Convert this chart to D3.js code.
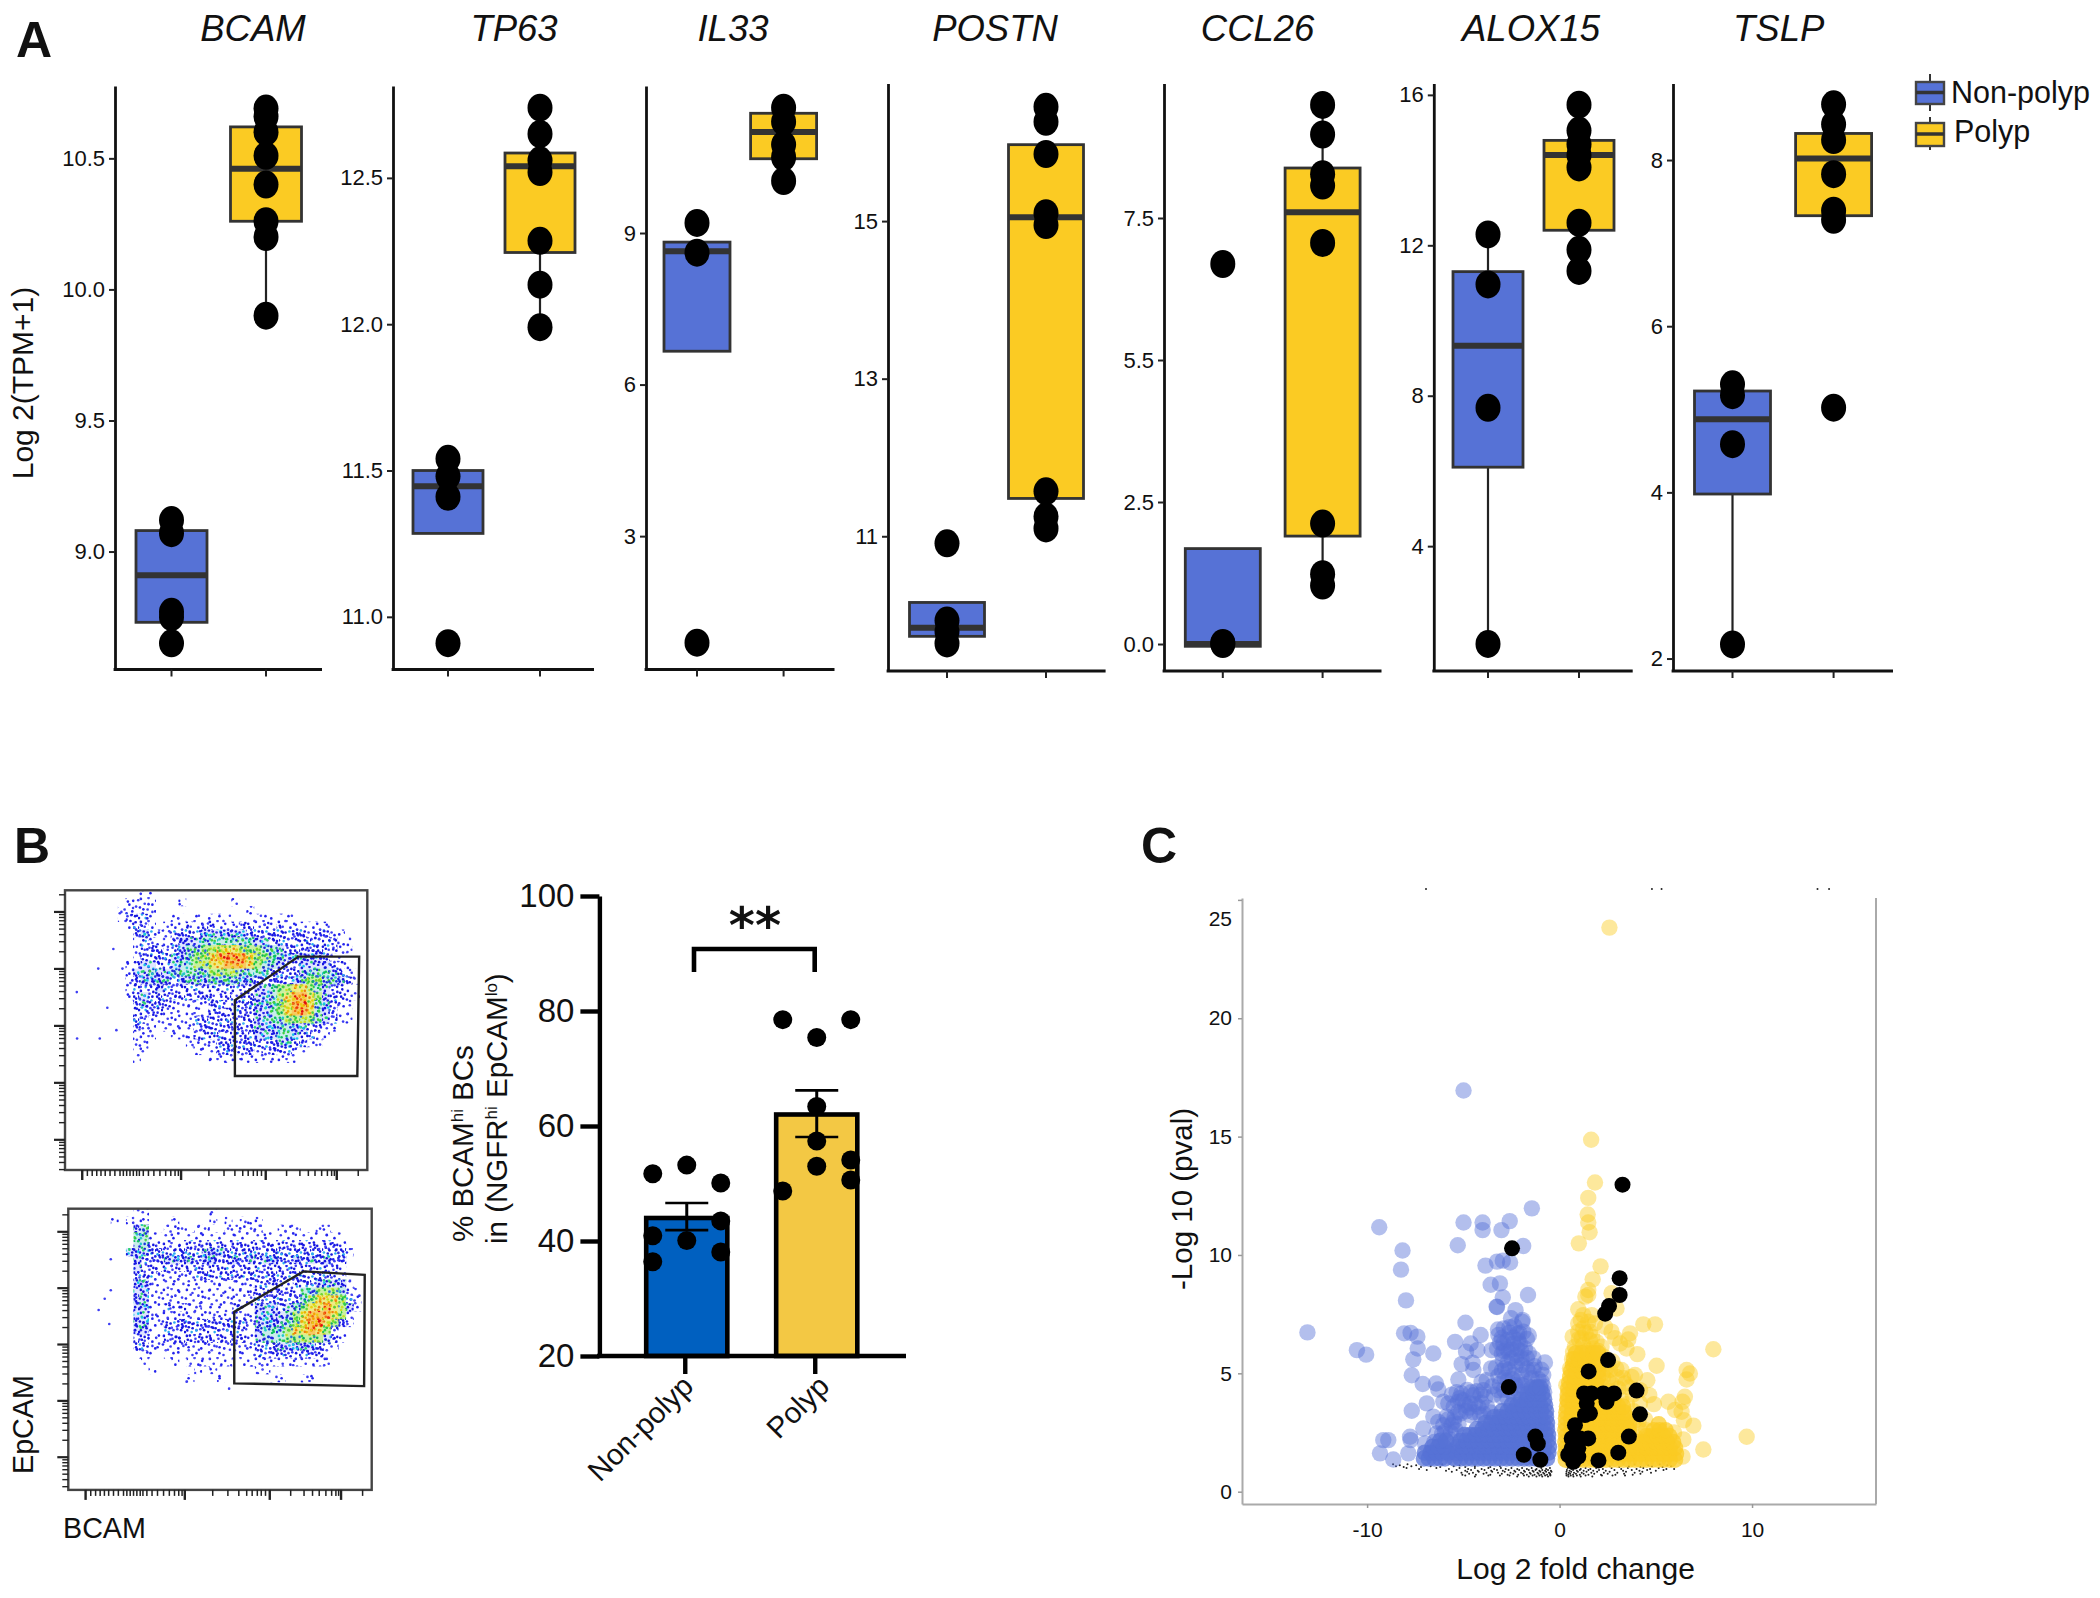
<!DOCTYPE html>
<html>
<head>
<meta charset="utf-8">
<script src="https://cdn.jsdelivr.net/npm/d3@7"></script>
<style>
  body { margin: 0; background: #fff; }
  svg { display: block; }
  text { font-family: "Liberation Sans", Arial, sans-serif; fill: #111; }
</style>
</head>
<body>
<svg id="fig" width="2100" height="1598"></svg>
<script>
// Panel A data
const groups = ["Non-polyp", "Polyp"];
const genes = ["BCAM", "TP63", "IL33", "POSTN", "CCL26", "ALOX15", "TSLP"];
const yDomains = [[8.55, 10.776], [10.82, 12.814], [0.36, 11.91], [9.29, 16.745], [-0.475, 9.866], [0.68, 16.3], [1.85, 8.92]];
const yTicks = [[9, 9.5, 10, 10.5], [11, 11.5, 12, 12.5], [3, 6, 9], [11, 13, 15], [0, 2.5, 5, 7.5], [4, 8, 12, 16], [2, 4, 6, 8]];
const yTickLabels = [["9.0", "9.5", "10.0", "10.5"], ["11.0", "11.5", "12.0", "12.5"], ["3", "6", "9"], ["11", "13", "15"], ["0.0", "2.5", "5.5", "7.5"], ["4", "8", "12", "16"], ["2", "4", "6", "8"]];
const q1Values = [[8.73, 10.26], [11.285, 12.245], [6.66, 10.47], [9.73, 11.48], [-0.04, 1.9], [6.1, 12.4], [3.98, 7.33]];
const medianValues = [[8.91, 10.46], [11.446, 12.54], [8.64, 11.0], [9.84, 15.05], [0, 7.6], [9.33, 14.4], [4.88, 8.02]];
const q3Values = [[9.08, 10.62], [11.5, 12.585], [8.82, 11.37], [10.16, 15.97], [1.68, 8.38], [11.3, 14.79], [5.22, 8.32]];
const whiskerLow = [[8.73, 9.9], [11.285, 11.99], [6.66, 10.47], [9.73, 11.48], [-0.04, 1.03], [1.4, 12.4], [2.17, 7.33]];
const whiskerHigh = [[9.08, 10.69], [11.5, 12.74], [8.82, 11.37], [10.16, 15.97], [1.68, 9.49], [12.29, 14.79], [5.22, 8.32]];
const dotsNonPolyp = [
  [9.12, 9.07, 8.77, 8.75, 8.65],
  [11.54, 11.48, 11.41, 10.91],
  [9.2, 8.61, 0.89],
  [10.91, 9.93, 9.79, 9.64],
  [6.69, 0, 0.02],
  [12.29, 10.96, 7.68, 1.4],
  [5.3, 5.17, 4.58, 2.17]
];
const dotsPolyp = [
  [10.69, 10.66, 10.6, 10.51, 10.4, 10.26, 10.2, 9.9],
  [12.74, 12.65, 12.56, 12.52, 12.285, 12.135, 11.99],
  [11.48, 11.2, 10.75, 10.5, 10.03],
  [16.45, 16.26, 15.85, 15.1, 14.95, 11.57, 11.25, 11.1],
  [9.49, 8.97, 8.27, 8.07, 7.06, 2.12, 1.23, 1.03],
  [15.74, 15.05, 14.68, 14.4, 14.07, 12.6, 11.88, 11.32],
  [8.67, 8.43, 8.24, 7.83, 7.39, 7.28, 5.02]
];

// Panel B flow plots: density class per cell (0 empty .. 7 red)
const flowDensityTop = [
  "0001110000000000000000000000000000",
  "0011110001000000100000000000000000",
  "0111110000000000001000000000000000",
  "0122210011011111001111111000000000",
  "0012210111212211122121211111100000",
  "0002321122223333332222222212211000",
  "0001211123334444444332222222221100",
  "0001222123445566655544322222221100",
  "0001222233455677776554433333211000",
  "0012332234455667776544322333322100",
  "0013343344444555544432222344432110",
  "0012333323343444433222223455443210",
  "0012223222222222222334556654322100",
  "0012322222222212122334567765322110",
  "0002322211111221222334567764321100",
  "0002222111111222222334567764321100",
  "0002211111122222222334455554321100",
  "0002110111122222222333443322110000",
  "0001110011122222222333443221100000",
  "0001100000111122222222332211000000",
  "0001100000011122222122221100000000",
  "0001000000000111111111111000000000"
];
const flowDensityBottom = [
  "0001100000000100000000000000000000",
  "1011100010000101011100000000000000",
  "0003400111011001111100111001100000",
  "0004411111111111111111111111111000",
  "0004421212222222222222222222221000",
  "0033322222223332222222222222222100",
  "0003222332323322323233223232322000",
  "0003222222222222222222222222221000",
  "0002221111122222222222222222211000",
  "0003311111111111111222112223333100",
  "0003311111111111112222222445554110",
  "0003311111111111111222222456665210",
  "0003311212121111211333234566765310",
  "0003311111111111111333345677765100",
  "0003311222222222221333345677652100",
  "0003311222222222221344456676521000",
  "0002211222222222221344455555321000",
  "0002211111111111111222333332110000",
  "0001110111111111111222222222100000",
  "0000100010111111011111111111100000",
  "0000010000010100000110000000000000",
  "0000000000100010000001100110000000"
];
const flowStraysTop = [[3.9, 63.6], [11, 72], [4, 47], [11.5, 47], [17, 50], [19, 72], [16, 79], [14, 58]];
const flowStraysBottom = [[14, 71], [12, 68], [13.5, 59], [10, 64], [14, 82], [39, 38.5], [53, 36]];
const gateTop = [[56.2, 60.7], [77.2, 76.3], [97.3, 76.3], [96.7, 33.6], [56.2, 33.6]];
const gateBottom = [[54.7, 63.3], [77.5, 77.7], [97.7, 76.5], [97.5, 36.9], [54.7, 37.9]];
const flowMajorX = [5.7, 38.4, 66.4, 89.9];
const flowMinorX = [7.4, 9, 10.5, 11.9, 13.3, 14.9, 16.5, 18.2, 19.3, 20.4, 21.5, 22.6, 23.7, 24.6, 25.9, 27.6, 29.4, 31.4, 33.3, 35, 36.4, 37.5, 47.6, 52.6, 56.2, 58.8, 60.6, 62.3, 63.6, 65, 73.3, 77.7, 80.5, 82.7, 84.9, 86.8, 88.2, 89.1, 97];

// Panel B bars
const barMeans = [44, 62];
const barErrLow = [41.9, 58.1];
const barErrHigh = [46.6, 66.2];
const barTicks = [20, 40, 60, 80, 100];
const barDotsNon = [[-1, 51.7], [0, 53.2], [1, 50.1], [1, 43.5], [-1, 40.9], [0, 40.1], [1, 38.1], [-1, 36.4]];
const barDotsPolyp = [[-1, 78.5], [1, 78.5], [0, 75.4], [0, 63.4], [0, 57.4], [0, 53], [1, 54.1], [1, 50.6], [-1, 48.7]];

// Panel C volcano, [log2fc, -log10 p]
const blueScattered = [
  [-4.99, 16.95], [-1.44, 11.97], [-9.37, 11.17], [-4.99, 11.37], [-4, 11.37], [-4, 11.05], [-3.02, 11.05], [-2.59, 11.43],
  [-5.29, 10.41], [-1.89, 10.38], [-8.16, 10.19], [-8.24, 9.38], [-3.85, 9.55], [-3.25, 9.72], [-2.95, 9.76], [-2.57, 9.68],
  [-3.58, 8.74], [-3.1, 8.8], [-7.98, 8.08], [-2.95, 8.21], [-1.64, 8.31], [-3.25, 7.8], [-2.29, 7.67], [-3.27, 7.81],
  [-4.89, 7.14], [-2.52, 7.33], [-1.94, 7.18], [-1.92, 7.25], [-13.1, 6.73], [-8.08, 6.69], [-7.74, 6.71], [-7.39, 6.55],
  [-7.37, 6.05], [-7.6, 5.59], [-7.68, 4.92], [-7.11, 4.55], [-6.56, 5.84], [-5.43, 6.33], [-4.1, 6.62], [-4.62, 6.26],
  [-4.86, 5.91], [-4.27, 5.98], [-5.09, 5.39], [-4.52, 5.45], [-4.48, 5.14], [-5.26, 4.74], [-6.42, 4.57], [-6.3, 4.32],
  [-3.56, 5.21], [-3.18, 6.62], [-3.53, 5.98], [-10.53, 5.98], [-10.05, 5.79], [-3, 6.5], [-2.92, 6.26], [-2.4, 6.26],
  [-2.06, 6.26], [-1.8, 6.05], [-2.66, 5.91], [-2.23, 5.77], [-3, 5.84], [-2.49, 5.63], [-1.97, 5.63], [-1.36, 5.63],
  [-0.76, 5.46], [-1.36, 5.14], [-2.84, 5.21], [-1.97, 4.93], [-1.45, 4.79], [-0.93, 4.64], [-0.85, 4.93], [-2.4, 4.93],
  [-3.18, 4.88], [-3.79, 4.71], [-4.05, 4.64], [-3.18, 4.29], [-3.96, 4.29], [-4.48, 4.08], [-5, 3.87], [-5.26, 3.8],
  [-4.65, 3.73], [-4.22, 3.59], [-4.13, 3.24], [-4.65, 3.24], [-5.26, 3.37], [-5.78, 3.73], [-6.04, 3.8], [-6.56, 3.17],
  [-6.9, 3.73], [-7.68, 3.42], [-7.08, 2.67], [-5.87, 3.17], [-5.61, 2.81], [-6.04, 2.81], [-6.39, 2.46], [-7.77, 2.32],
  [-7.74, 2.18], [-6.99, 2.04], [-8.9, 2.18], [-9.16, 2.18], [-7.86, 1.62], [-8.64, 1.36], [-9.33, 1.62],
  [-2.6, 6.72], [-2.2, 6.68], [-1.88, 6.76], [-1.7, 6.45], [-2.75, 6.05], [-2.2, 6.05], [-1.95, 5.35], [-2.3, 5.3],
  [-1.6, 5.05], [-1.1, 4.75], [-2.7, 4.7], [-2.2, 4.65], [-3.5, 4.45], [-1.75, 4.55],
  [-5.6, 4.1], [-5.35, 4.2], [-5.1, 4.15], [-4.8, 4.3], [-4.6, 4.2], [-4.3, 4.25], [-4.1, 4.1], [-3.85, 4],
  [-5.5, 3.6], [-5.2, 3.95], [-4.9, 3.65], [-4.7, 3.55], [-4.4, 3.7], [-4.05, 3.75], [-3.75, 3.55], [-5.45, 3.15],
  [-5.15, 3.3], [-4.85, 3.4], [-4.45, 3.35], [-3.95, 3.3], [-3.6, 3.35], [-5.8, 3.05], [-5.5, 2.95], [-5.25, 2.85],
  [-5.95, 2.55], [-5.65, 2.5], [-5.4, 2.6], [-6.3, 2.95], [-6.1, 2.45], [-6.5, 2.1], [-5.7, 2.2], [-5.5, 1.95], [-5.7, 1.7], [-5.6, 1.45],
  [-3.3, 5.25], [-3, 5.1], [-2.65, 5.15], [-2.85, 4.8], [-2.45, 4.75], [-3.1, 4.55], [-2.3, 4.5], [-1.95, 4.5],
  [-2.9, 4.3], [-2.55, 4.25], [-2.2, 4.3], [-1.85, 4.25], [-3.4, 4.1], [-3, 4], [-2.7, 3.95], [-2.35, 3.95],
  [-0.8, 4.2], [-0.85, 4.45], [-1.15, 4.4], [-1.3, 5.3], [-0.95, 5.15], [-1.7, 5.2],
  [-3.2, 6.85], [-2.9, 6.9], [-2.6, 6.95], [-2.35, 7], [-2.1, 6.7], [-3.1, 6.3], [-2.7, 6.4], [-2.4, 6.5],
  [-2.15, 6.4], [-1.6, 6.6], [-3.25, 6.05], [-2.9, 5.95], [-2.5, 6], [-2, 5.95], [-2.95, 5.55], [-2.7, 5.45],
  [-2.2, 5.5], [-1.7, 5.65], [-1.6, 5.85]
];
const blueRows = [
  [1.4, [-7.05, -6.8, -6.5, -6.2, -5.95, -5.45, -5.15, -4.85, -4.55, -4.25, -3.95, -3.65, -3.35, -3.05, -2.75, -2.45, -2.15, -1.85, -1.55, -1.25, -0.95, -0.65]],
  [1.65, [-7, -6.7, -6.4, -6.1, -5.8, -5.35, -5.05, -4.75, -4.45, -4.15, -3.85, -3.55, -3.25, -2.95, -2.65, -2.35, -2.05, -1.75, -1.45, -1.15, -0.85, -0.58]],
  [1.9, [-6.6, -6.3, -6, -5.3, -5, -4.7, -4.4, -4.1, -3.8, -3.5, -3.2, -2.9, -2.6, -2.3, -2, -1.7, -1.4, -1.1, -0.8, -0.55]],
  [2.15, [-6.2, -5.9, -5.15, -4.85, -4.55, -4.25, -3.95, -3.65, -3.35, -3.05, -2.75, -2.45, -2.15, -1.85, -1.55, -1.25, -0.95, -0.6]],
  [2.4, [-4.95, -4.65, -4.35, -4.05, -3.75, -3.45, -3.15, -2.85, -2.55, -2.25, -1.95, -1.65, -1.35, -1.05, -0.75, -0.6]],
  [2.65, [-4.3, -4, -3.7, -3.4, -3.1, -2.8, -2.5, -2.2, -1.9, -1.6, -1.3, -1, -0.65]],
  [2.9, [-3.85, -3.55, -3.25, -2.95, -2.65, -2.35, -2.05, -1.75, -1.45, -1.15, -0.85, -0.65]],
  [3.15, [-3.4, -3.1, -2.8, -2.5, -2.2, -1.9, -1.6, -1.3, -1, -0.7]],
  [3.4, [-3, -2.7, -2.4, -2.1, -1.8, -1.5, -1.2, -0.95, -0.7]],
  [3.65, [-2.5, -2.2, -1.9, -1.6, -1.3, -1, -0.75]],
  [3.9, [-2, -1.7, -1.4, -1.1, -0.8]],
  [4.15, [-1.65, -1.35, -1.1, -0.9]],
  [4.4, [-1.45, -1.2, -1]]
];
const yellowScattered = [
  [2.59, 23.83], [1.64, 14.87], [1.84, 13.06], [1.49, 12.41], [1.46, 11.71], [1.49, 11.37], [1.56, 10.96], [1, 10.49],
  [2.13, 9.52], [1.72, 8.97], [1.49, 8.52], [1.49, 8.31], [1.34, 8.24], [2.7, 8.38], [0.97, 7.71], [2.96, 7.74],
  [4.35, 7.07], [4.96, 7.07], [7.99, 6.02], [3.66, 6.69], [2.36, 6.97], [2.7, 6.76], [2.88, 6.48], [3.57, 6.43],
  [3.14, 6.26], [3.48, 6.05], [4.04, 5.81], [0.68, 6.55], [5.04, 5.32], [6.6, 5.14], [6.77, 4.99], [6.6, 4.74],
  [3.22, 5.14], [3.92, 4.93], [4.56, 4.71], [0.54, 5.2], [6.51, 4.01], [6.39, 3.8], [5.65, 3.8], [6, 3.45],
  [6.34, 3.38], [4.9, 3.7], [4.66, 4.08], [6.95, 2.79], [6.46, 3.02], [7.47, 1.78], [9.72, 2.32], [6.39, 1.48],
  [6.43, 2.21], [1.23, 7.46], [1.67, 7.46], [0.97, 7.11], [1.49, 7.18], [1.84, 7.11], [1.23, 6.9], [1.58, 6.76],
  [0.97, 6.76], [1.15, 6.48], [1.58, 6.4], [1.92, 6.33], [0.8, 6.12], [1.23, 6.19], [1.75, 6.05], [2.18, 6.12],
  [2.62, 5.14], [2.96, 4.85], [3.4, 4.57], [3.74, 4.85], [2.27, 4.85], [2.7, 4.57], [4.18, 4.29], [4.18, 3.73],
  [4.18, 2.6], [2.45, 5.4], [3.05, 4.35], [2.35, 4.4], [4.45, 3.05], [0.4, 3.9], [0.35, 4.5], [5.95, 2.5],
  [1, 6.45], [1.35, 6.7], [1.1, 7.25], [1.7, 6.55], [2, 5.95], [0.7, 5.9], [0.65, 5.6], [1.45, 5.95],
  [2.3, 5.7], [2.4, 5.2], [2.75, 5.5], [2.2, 5], [2.95, 5.2], [3.3, 4.8], [3.6, 4.4], [3.8, 4.1],
  [2.5, 4.7], [2.6, 4.25], [3.2, 3.9], [3.5, 3.7], [3.85, 3.4], [3.9, 3], [4.1, 2.95], [4.5, 2.6], [4.6, 2.3], [3.95, 2.3]
];
const yellowRows = [
  [1.35, [0.32, 0.62, 0.92, 1.22, 1.52, 1.82, 2.12, 2.42, 2.72, 3.02, 3.32, 3.62, 3.92, 4.22, 4.52, 4.82, 5.12, 5.42, 5.72, 6]],
  [1.6, [0.3, 0.6, 0.9, 1.2, 1.5, 1.8, 2.1, 2.4, 2.7, 3, 3.3, 3.6, 3.9, 4.2, 4.5, 4.8, 5.1, 5.4, 5.7, 6.05]],
  [1.85, [0.33, 0.63, 0.93, 1.23, 1.53, 1.83, 2.13, 2.43, 2.73, 3.03, 3.33, 3.63, 3.93, 4.23, 4.53, 4.83, 5.13, 5.43, 5.73, 6]],
  [2.1, [0.3, 0.6, 0.9, 1.2, 1.5, 1.8, 2.1, 2.4, 2.7, 3, 3.3, 3.6, 4, 4.4, 4.7, 5, 5.3, 5.6, 5.9]],
  [2.35, [0.33, 0.63, 0.93, 1.23, 1.53, 1.83, 2.13, 2.43, 2.73, 3.03, 3.33, 3.6, 4.5, 4.8, 5.1, 5.4, 5.7]],
  [2.6, [0.3, 0.6, 0.9, 1.2, 1.5, 1.8, 2.1, 2.4, 2.7, 3, 3.3, 3.6, 4.9, 5.2, 5.5]],
  [2.85, [0.33, 0.63, 0.93, 1.23, 1.53, 1.83, 2.13, 2.43, 2.73, 3.03, 3.33, 3.6, 5.15]],
  [3.1, [0.33, 0.6, 0.9, 1.2, 1.5, 1.8, 2.1, 2.4, 2.7, 3, 3.3, 3.55]],
  [3.35, [0.35, 0.65, 0.95, 1.25, 1.55, 1.85, 2.15, 2.45, 2.75, 3.05, 3.35]],
  [3.6, [0.38, 0.65, 0.95, 1.25, 1.55, 1.85, 2.15, 2.45, 2.75, 3.05, 3.3]],
  [3.85, [0.42, 0.7, 1, 1.3, 1.6, 1.9, 2.3, 2.8]],
  [4.1, [0.42, 0.7, 1, 1.3, 1.6, 1.85]],
  [4.35, [0.45, 0.72, 1, 1.3, 1.6, 1.9]],
  [4.6, [0.5, 0.78, 1.05, 1.35, 1.65, 1.9]],
  [4.85, [0.55, 0.8, 1.1, 1.4, 1.7, 2]],
  [5.1, [0.6, 0.85, 1.15, 1.45, 1.75, 2]],
  [5.35, [0.7, 0.95, 1.25, 1.55, 1.9]],
  [5.6, [0.75, 1, 1.3, 1.6, 1.9]],
  [5.85, [0.85, 1.15, 1.45, 1.75, 2]]
];
const blackPoints = [
  [3.27, 12.97], [3.12, 9.02], [3.12, 8.31], [2.57, 7.84], [2.37, 7.52], [2.52, 5.56], [1.51, 5.08], [4, 4.27],
  [4.18, 3.27], [3.6, 2.33], [3.05, 1.65], [2.02, 1.32], [-2.47, 10.28], [-2.64, 4.42], [-1.26, 2.33], [-1.13, 2.03],
  [-1.86, 1.56], [-1, 1.35], [1.27, 4.15], [1.66, 4.15], [2.27, 4.15], [2.83, 4.15], [2.44, 3.8], [1.41, 3.73],
  [1.58, 3.31], [1.32, 3.24], [0.8, 2.81], [1.49, 2.25], [1.06, 2.25], [0.63, 2.25], [0.97, 1.83], [0.63, 1.83],
  [0.45, 1.55], [0.97, 1.48], [0.71, 1.26]
];
const speckRows = [
  [1.16, [-8.65, -7.9, -6.1, 3.9, 5.2]],
  [1.12, [-8.3, -7.45, -5.2, 4.6, 5.6]],
  [1.08, [-8.5, -7.7, -6.7, -5.5, -4.4, -3.1, 2.6, 3.6, 4.8, 5.8]],
  [1.04, [-8.1, -7.2, -6.2, -4.9, -3.6, 3.1, 4.2, 5.35]],
  [1, [-7.95, -6.4, -5.2, -4.4, -3.7, -3.05, -2.5, -1.95, -1.45, -0.95, -0.5, 0.42, 0.85, 1.35, 1.9, 2.7, 3.55, 4.35, 5.15]],
  [0.96, [-7.3, -5.75, -4.75, -4.05, -3.4, -2.8, -2.2, -1.7, -1.2, -0.7, 0.62, 1.1, 1.6, 2.25, 3.2, 4, 4.7, 5.55, 5.95]],
  [0.92, [-6.9, -5.35, -4.6, -3.9, -3.25, -2.65, -2.1, -1.6, -1.25, -0.9, -0.6, 0.38, 0.7, 1.05, 1.5, 2.05, 2.85, 3.75, 4.55, 5.4]],
  [0.88, [-5.9, -4.9, -4.25, -3.55, -2.95, -2.35, -1.85, -1.4, -1.05, -0.75, -0.45, 0.52, 0.9, 1.25, 1.75, 2.4, 3.3, 4.15, 5]],
  [0.84, [-5.6, -4.8, -4.2, -3.5, -2.85, -2.3, -1.8, -1.35, -1, -0.7, -0.42, 0.36, 0.6, 0.95, 1.4, 1.95, 2.6, 3.45, 4.3]],
  [0.8, [-5.1, -4.5, -3.8, -3.2, -2.55, -2, -1.55, -1.15, -0.85, -0.55, 0.48, 0.75, 1.15, 1.65, 2.3, 3, 3.9, 4.75]],
  [0.76, [-4.7, -3.95, -3, -2.4, -1.9, -1.5, -1.1, -0.8, -0.5, 0.35, 0.55, 0.85, 1.25, 1.8, 2.5, 3.35, 4.2]],
  [0.72, [-5.05, -4.35, -3.6, -2.7, -2.15, -1.7, -1.3, -0.95, -0.65, -0.48, 0.45, 0.7, 1.05, 1.5, 2.15, 2.9, 3.8]],
  [0.68, [-4.9, -3.7, -3.1, -2.6, -1.85, -1.4, -1.05, -0.75, -0.48, 0.36, 0.58, 0.9, 1.35, 2.2, 2.75, 3.4]],
  [0.64, [-4.4, -2.2, -1.6, -1.2, -0.9, -0.6, 0.46, 0.72, 1.1, 1.7]]
];
const topSpecks = [[-6.94, 25.46], [4.8, 25.46], [5.3, 25.46], [13.4, 25.46], [14, 25.46]];
const volcanoYTicks = [0, 5, 10, 15, 20, 25];
const volcanoXTicks = [-10, 0, 10];

const blue = "#5672d6", yellow = "#fbcb23", boxLine = "#333";

// layout, in page pixels
const panelLayout = [
  { left: 115, right: 322, cat1: 171.5, cat2: 266, boxW: 71, top: 86, bottom: 669.5, titleX: 253 },
  { left: 393, right: 594, cat1: 448, cat2: 540, boxW: 70, top: 86, bottom: 669.5, titleX: 514 },
  { left: 646, right: 834.5, cat1: 697, cat2: 783.6, boxW: 66, top: 86, bottom: 669.5, titleX: 733 },
  { left: 888, right: 1105.6, cat1: 947, cat2: 1046, boxW: 75, top: 83.6, bottom: 671, titleX: 995 },
  { left: 1164, right: 1381.5, cat1: 1222.8, cat2: 1322.6, boxW: 75, top: 83.6, bottom: 671, titleX: 1257.6 },
  { left: 1433.8, right: 1632.7, cat1: 1488, cat2: 1579, boxW: 70, top: 83.6, bottom: 671, titleX: 1531 },
  { left: 1673, right: 1893, cat1: 1732.5, cat2: 1833.6, boxW: 76, top: 83.6, bottom: 671, titleX: 1778.7 }
];

const svg = d3.select("#fig");
svg.append("rect").attr("width", 2100).attr("height", 1598).attr("fill", "#fff");

function panelLetter(t, x, y, size) {
  svg.append("text").attr("x", x).attr("y", y)
    .attr("font-size", size).attr("font-weight", 700).text(t);
}
panelLetter("A", 16, 57, 50);
panelLetter("B", 14, 863, 50);
panelLetter("C", 1141, 863, 50);

// ---- Panel A ----
genes.forEach((gene, i) => {
  const lay = panelLayout[i];
  const g = svg.append("g");
  const y = d3.scaleLinear().domain(yDomains[i]).range([lay.bottom, lay.top]);
  const x = d3.scalePoint().domain(groups).range([lay.cat1, lay.cat2]);

  g.append("text").attr("x", lay.titleX).attr("y", 41)
    .attr("text-anchor", "middle").attr("font-size", 36.5).attr("font-style", "italic").text(gene);

  const yAxis = d3.axisLeft(y).tickValues(yTicks[i])
    .tickFormat((d, k) => yTickLabels[i][k]).tickSize(6).tickSizeOuter(0);
  const ya = g.append("g").attr("transform", `translate(${lay.left},0)`).call(yAxis);
  ya.selectAll("text").attr("font-size", 22).attr("dx", -1).style("font-family", '"Liberation Sans"');
  ya.select(".domain").attr("stroke", "#111").attr("stroke-width", 2.8);
  ya.selectAll(".tick line").attr("stroke", "#222").attr("stroke-width", 2);

  g.append("line").attr("x1", lay.left - 1.4).attr("x2", lay.right)
    .attr("y1", lay.bottom).attr("y2", lay.bottom).attr("stroke", "#111").attr("stroke-width", 3);
  groups.forEach(gr => {
    g.append("line").attr("x1", x(gr)).attr("x2", x(gr))
      .attr("y1", lay.bottom).attr("y2", lay.bottom + 7).attr("stroke", "#222").attr("stroke-width", 2);
  });

  groups.forEach((gr, k) => {
    const cx = x(gr), fill = k === 0 ? blue : yellow;
    g.append("line").attr("x1", cx).attr("x2", cx)
      .attr("y1", y(whiskerLow[i][k])).attr("y2", y(whiskerHigh[i][k]))
      .attr("stroke", "#222").attr("stroke-width", 2.2);
    g.append("rect").attr("x", cx - lay.boxW / 2).attr("width", lay.boxW)
      .attr("y", y(q3Values[i][k])).attr("height", y(q1Values[i][k]) - y(q3Values[i][k]))
      .attr("fill", fill).attr("stroke", boxLine).attr("stroke-width", 2.8);
    g.append("line").attr("x1", cx - lay.boxW / 2).attr("x2", cx + lay.boxW / 2)
      .attr("y1", y(medianValues[i][k])).attr("y2", y(medianValues[i][k]))
      .attr("stroke", "#333").attr("stroke-width", 6);
    g.selectAll(null).data(k === 0 ? dotsNonPolyp[i] : dotsPolyp[i]).enter().append("ellipse")
      .attr("cx", cx).attr("cy", d => y(d)).attr("rx", 12.5).attr("ry", 14).attr("fill", "#000");
  });
});

svg.append("text").attr("transform", "translate(33,383) rotate(-90)")
  .attr("text-anchor", "middle").attr("font-size", 30).text("Log 2(TPM+1)");

// legend
[[1916, 82, 22, 74, 111, 92.5, blue, "Non-polyp", 1951, 103], [1916, 123, 23, 117, 150, 134, yellow, "Polyp", 1954, 142]]
  .forEach(([lx, ly, lh, w0, w1, med, fill, label, tx, ty]) => {
    svg.append("line").attr("x1", lx + 14).attr("x2", lx + 14).attr("y1", w0).attr("y2", w1)
      .attr("stroke", "#333").attr("stroke-width", 2);
    svg.append("rect").attr("x", lx).attr("y", ly).attr("width", 28).attr("height", lh)
      .attr("fill", fill).attr("stroke", "#444").attr("stroke-width", 2.4);
    svg.append("line").attr("x1", lx).attr("x2", lx + 28).attr("y1", med).attr("y2", med)
      .attr("stroke", "#333").attr("stroke-width", 3.5);
    svg.append("text").attr("x", tx).attr("y", ty).attr("font-size", 30.5).text(label);
  });

// ---- Panel B flow plots ----
const defs = svg.append("defs");
const speckle = [[3, 2], [11, 1], [19, 4], [7, 7], [15, 8], [22, 10], [2, 11], [10, 13], [18, 15], [5, 17], [13, 20], [21, 20], [1, 22], [8, 22], [16, 3], [23, 16],
  [4, 6], [12, 5], [20, 8], [6, 12], [14, 12], [22, 14], [2, 16], [9, 18], [17, 19], [0, 8], [11, 9], [18, 11], [7, 15], [15, 16], [3, 20], [20, 23]];
const levelStyles = [
  null,
  { n: 11, back: null, colors: ["#2424ee", "#3c3cf4"] },
  { n: 26, back: null, colors: ["#1414e0", "#2424ee", "#1414e0", "#3c3cf4", "#1414e0", "#1414e0", "#2aa8f0"] },
  { n: 32, back: "#dfe4ff", colors: ["#1414e0", "#2020ea", "#18c4e8", "#1414e0", "#28d070", "#1414e0"] },
  { n: 32, back: "#c8ecec", colors: ["#20c8c8", "#10c060", "#2020e0", "#40d040", "#1838e0"] },
  { n: 32, back: "#c8f0a0", colors: ["#30d040", "#c8e020", "#10b060", "#70d830", "#2a70e0"] },
  { n: 32, back: "#eeea80", colors: ["#e8d010", "#f08010", "#50d040", "#f0b000", "#c0e020"] },
  { n: 32, back: "#f8c860", colors: ["#f03010", "#f07010", "#e8d010", "#e01010", "#f8a000"] }
];
// two tile sizes with no common period, so the speckle does not read as a lattice
const tiles = [{ id: "a", size: 23 }, { id: "b", size: 31 }];
levelStyles.forEach((st, lvl) => {
  if (!st) return;
  tiles.forEach(t => {
    const p = defs.append("pattern").attr("id", `lvl${lvl}${t.id}`).attr("patternUnits", "userSpaceOnUse")
      .attr("width", t.size).attr("height", t.size);
    if (st.back && t.id === "a") p.append("rect").attr("width", t.size).attr("height", t.size).attr("fill", st.back);
    speckle.slice(0, st.n).forEach((s, k) => {
      p.append("circle").attr("cx", s[0] * t.size / 24).attr("cy", s[1] * t.size / 24).attr("r", 1.3)
        .attr("fill", st.colors[k % st.colors.length]);
    });
  });
});
defs.append("filter").attr("id", "soft").append("feGaussianBlur").attr("stdDeviation", 0.45);

const flowPlots = [
  { left: 65, right: 367.3, top: 890.3, bottom: 1170, grid: flowDensityTop, strays: flowStraysTop, gate: gateTop, originX: 15, logDomain: [Math.pow(10, 0.47), Math.pow(10, 5.38)] },
  { left: 68.3, right: 371.7, top: 1208.7, bottom: 1489.9, grid: flowDensityBottom, strays: flowStraysBottom, gate: gateBottom, originX: 14, logDomain: [Math.pow(10, 0.42), Math.pow(10, 5.41)] }
];
flowPlots.forEach(fp => {
  const g = svg.append("g");
  const x = d3.scaleLinear().domain([0, 100]).range([fp.left, fp.right]);
  const y = d3.scaleLinear().domain([0, 100]).range([fp.bottom, fp.top]);
  const logY = d3.scaleLog().domain(fp.logDomain).range([fp.bottom, fp.top]);
  const cellW = 2.5, cellH = 2.8;

  const cells = [];
  fp.grid.forEach((row, j) => {
    row.split("").forEach((c, i) => { if (c !== "0") cells.push({ i, j, lvl: +c }); });
  });
  const dens = g.append("g").attr("filter", "url(#soft)");
  tiles.forEach(t => {
    dens.append("g").selectAll("rect").data(cells).enter().append("rect")
      .attr("x", d => x(fp.originX + d.i * cellW))
      .attr("y", d => y(100 - d.j * cellH))
      .attr("width", x(cellW) - x(0) + 0.3)
      .attr("height", y(0) - y(cellH) + 0.3)
      .attr("fill", d => `url(#lvl${d.lvl}${t.id})`);
  });
  dens.selectAll("circle").data(fp.strays).enter().append("circle")
    .attr("cx", d => x(d[0])).attr("cy", d => y(d[1])).attr("r", 1.3).attr("fill", "#3c3cf4");

  g.append("rect").attr("x", fp.left).attr("y", fp.top)
    .attr("width", fp.right - fp.left).attr("height", fp.bottom - fp.top)
    .attr("fill", "none").attr("stroke", "#444").attr("stroke-width", 2.4);
  g.append("path").attr("d", d3.line().x(d => x(d[0])).y(d => y(d[1])).curve(d3.curveLinearClosed)(fp.gate))
    .attr("fill", "none").attr("stroke", "#222").attr("stroke-width", 2.4);

  logY.ticks().forEach(v => {
    const major = Math.abs(Math.log10(v) - Math.round(Math.log10(v))) < 1e-6;
    g.append("line").attr("x1", fp.left).attr("x2", fp.left - (major ? 11 : 6))
      .attr("y1", logY(v)).attr("y2", logY(v)).attr("stroke", "#222").attr("stroke-width", major ? 2.2 : 1.4);
  });
  flowMajorX.forEach(v => {
    g.append("line").attr("x1", x(v)).attr("x2", x(v)).attr("y1", fp.bottom).attr("y2", fp.bottom + 10)
      .attr("stroke", "#222").attr("stroke-width", 2.4);
  });
  flowMinorX.forEach(v => {
    g.append("line").attr("x1", x(v)).attr("x2", x(v)).attr("y1", fp.bottom).attr("y2", fp.bottom + 6)
      .attr("stroke", "#222").attr("stroke-width", 1.5);
  });
});
svg.append("text").attr("x", 63).attr("y", 1538).attr("font-size", 28.7).text("BCAM");
svg.append("text").attr("transform", "translate(33,1474) rotate(-90)").attr("font-size", 28.7).text("EpCAM");

// ---- Panel B bars ----
{
  const g = svg.append("g");
  const x = d3.scaleBand().domain(groups).range([644, 859.5]).paddingInner(0.342);
  const y = d3.scaleLinear().domain([20, 100]).range([1356, 896]);
  const fills = ["#0060c0", "#f3c844"];

  g.selectAll("rect").data(barMeans).enter().append("rect")
    .attr("x", (d, i) => x(groups[i]) + 2.2).attr("width", x.bandwidth() - 4.4)
    .attr("y", d => y(d)).attr("height", d => y(20) - y(d))
    .attr("fill", (d, i) => fills[i]).attr("stroke", "#000").attr("stroke-width", 4.6);

  groups.forEach((gr, i) => {
    const cx = x(gr) + x.bandwidth() / 2;
    g.append("line").attr("x1", cx).attr("x2", cx).attr("y1", y(barErrLow[i])).attr("y2", y(barErrHigh[i]))
      .attr("stroke", "#000").attr("stroke-width", 3);
    [barErrLow[i], barErrHigh[i]].forEach(v => {
      g.append("line").attr("x1", cx - 21.5).attr("x2", cx + 21.5).attr("y1", y(v)).attr("y2", y(v))
        .attr("stroke", "#000").attr("stroke-width", 2.6);
    });
    g.selectAll(null).data(i === 0 ? barDotsNon : barDotsPolyp).enter().append("circle")
      .attr("cx", d => cx + d[0] * 34).attr("cy", d => y(d[1])).attr("r", 9.5).attr("fill", "#000");
  });

  const yAxis = d3.axisLeft(y).tickValues(barTicks).tickSize(19).tickSizeOuter(0).tickPadding(6);
  const ya = g.append("g").attr("transform", "translate(599.4,0)").call(yAxis);
  ya.select(".domain").attr("stroke", "#000").attr("stroke-width", 4.4);
  ya.selectAll(".tick line").attr("stroke", "#000").attr("stroke-width", 4.4);
  ya.selectAll("text").attr("font-size", 33).style("font-family", '"Liberation Sans"');

  g.append("line").attr("x1", 597).attr("x2", 906).attr("y1", y(20)).attr("y2", y(20))
    .attr("stroke", "#000").attr("stroke-width", 4.4);

  const xAxis = d3.axisBottom(x).tickSize(18).tickSizeOuter(0).tickFormat("");
  const xa = g.append("g").attr("transform", `translate(-1.5,${y(20)})`).call(xAxis);
  xa.select(".domain").remove();
  xa.selectAll(".tick line").attr("stroke", "#000").attr("stroke-width", 4.4);

  [["Non-polyp", 695], ["Polyp", 831]].forEach(([t, tx]) => {
    g.append("text").attr("transform", `translate(${tx},1388) rotate(-45)`)
      .attr("text-anchor", "end").attr("font-size", 29.5).text(t);
  });

  g.append("path").attr("d", "M694,972V949H814.7V972").attr("fill", "none")
    .attr("stroke", "#000").attr("stroke-width", 4.6);
  g.append("text").attr("x", 755).attr("y", 943).attr("text-anchor", "middle")
    .attr("font-size", 50).attr("font-weight", 700).style("font-family", '"DejaVu Sans"').text("**");

  const l1 = g.append("text").attr("transform", "translate(473,1242) rotate(-90)").attr("font-size", 29.5);
  l1.append("tspan").text("% BCAM");
  l1.append("tspan").attr("font-size", 17).attr("dy", -10).text("hi");
  l1.append("tspan").attr("dy", 10).text(" BCs");
  const l2 = g.append("text").attr("transform", "translate(507,1244) rotate(-90)").attr("font-size", 29.5);
  l2.append("tspan").text("in (NGFR");
  l2.append("tspan").attr("font-size", 17).attr("dy", -10).text("hi");
  l2.append("tspan").attr("dy", 10).text(" EpCAM");
  l2.append("tspan").attr("font-size", 17).attr("dy", -10).text("lo");
  l2.append("tspan").attr("dy", 10).text(")");
}

// ---- Panel C ----
{
  const g = svg.append("g");
  const x = d3.scaleLinear().domain([-16.5, 16.44]).range([1242, 1876]);
  const y = d3.scaleLinear().domain([-0.52, 25.08]).range([1504, 898]);

  const specks = speckRows.flatMap(([v, xs]) => xs.map(d => [d, v])).concat(topSpecks);
  g.selectAll(".speck").data(specks).enter().append("circle").attr("class", "speck")
    .attr("cx", d => x(d[0])).attr("cy", d => y(d[1])).attr("r", 1).attr("fill", "#222");

  // the packed rows stand for the solid mass, the scattered ones stay see-through
  const layer = (pts, color, opacity) => g.append("g").selectAll("circle").data(pts).enter().append("circle")
    .attr("cx", d => x(d[0])).attr("cy", d => y(d[1])).attr("r", 8.2)
    .attr("fill", color).attr("fill-opacity", opacity);
  layer(blueScattered, blue, 0.45);
  layer(blueRows.flatMap(([v, xs]) => xs.map(d => [d, v])), blue, 0.72);
  layer(yellowScattered, yellow, 0.45);
  layer(yellowRows.flatMap(([v, xs]) => xs.map(d => [d, v])), yellow, 0.72);

  g.append("g").selectAll("circle").data(blackPoints).enter().append("circle")
    .attr("cx", d => x(d[0])).attr("cy", d => y(d[1])).attr("r", 8).attr("fill", "#000");

  const yAxis = d3.axisLeft(y).tickValues(volcanoYTicks).tickSize(4).tickSizeOuter(0).tickPadding(6);
  const ya = g.append("g").attr("transform", "translate(1242,0)").call(yAxis);
  ya.select(".domain").attr("stroke", "#aaa").attr("stroke-width", 2);
  ya.selectAll(".tick line").attr("stroke", "#999").attr("stroke-width", 1.5);
  ya.selectAll("text").attr("font-size", 21).style("font-family", '"Liberation Sans"').attr("fill", "#222");
  ya.selectAll(".tick").filter(d => d === 25).select("text").attr("dy", "1.2em");

  const xAxis = d3.axisBottom(x).tickValues(volcanoXTicks).tickFormat(d => String(d))
    .tickSize(4).tickSizeOuter(0).tickPadding(14);
  const xa = g.append("g").attr("transform", "translate(0,1504)").call(xAxis);
  xa.select(".domain").attr("stroke", "#aaa").attr("stroke-width", 2);
  xa.selectAll(".tick line").attr("stroke", "#999").attr("stroke-width", 1.5);
  xa.selectAll("text").attr("font-size", 21).style("font-family", '"Liberation Sans"').attr("fill", "#222");

  g.append("line").attr("x1", 1876).attr("x2", 1876).attr("y1", 898).attr("y2", 1504)
    .attr("stroke", "#aaa").attr("stroke-width", 2);

  g.append("text").attr("transform", "translate(1192,1199) rotate(-90)")
    .attr("text-anchor", "middle").attr("font-size", 29.5).text("-Log 10 (pval)");
  g.append("text").attr("x", 1575.6).attr("y", 1579)
    .attr("text-anchor", "middle").attr("font-size", 30).text("Log 2 fold change");
}
</script>
</body>
</html>
